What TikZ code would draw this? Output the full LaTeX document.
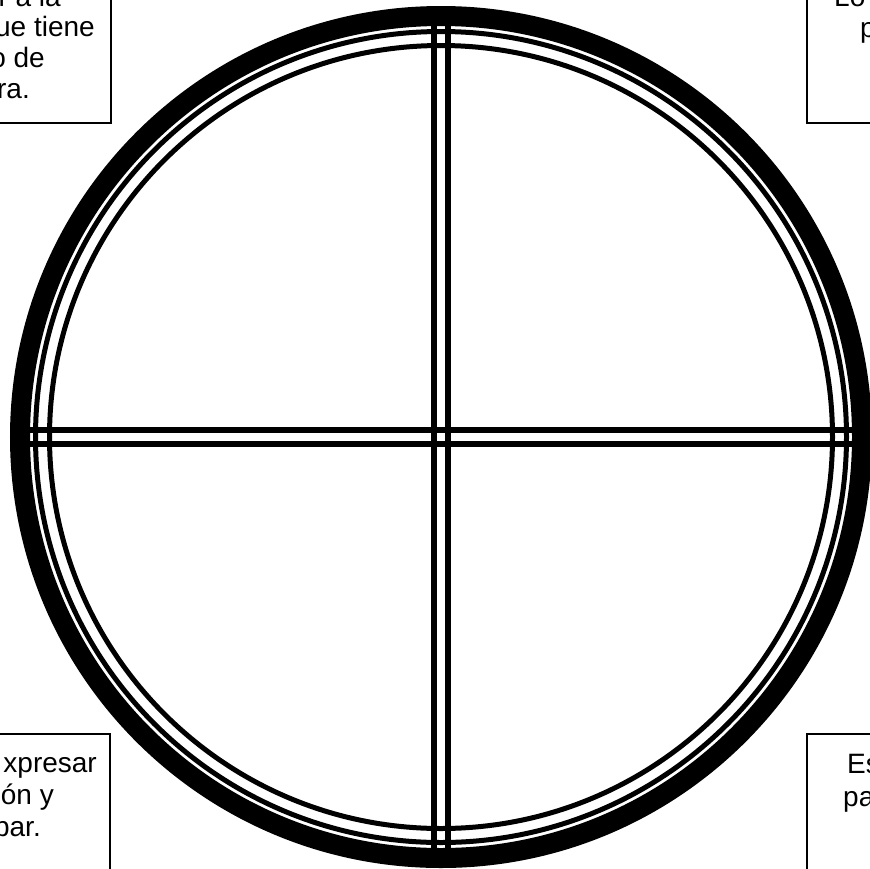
\documentclass[tikz,border=0pt]{standalone}
\usepackage{fontspec}
\setmainfont{Liberation Sans}
\usetikzlibrary{calc}
\begin{document}
\begin{tikzpicture}[x=1pt, y=-1pt,
    ring/.style={draw=black},
    bar/.style={draw=black, line width=6pt},
    notebox/.style={draw=black, line width=1.5pt},
    note/.style={font=\fontsize{28}{33}\selectfont, inner sep=0pt}]
  \useasboundingbox (0,0) rectangle (870,868);
  \clip (0,0) rectangle (870,868);
  \fill[white] (0,0) rectangle (870,868);
  \coordinate (C) at (441,437);
  % anillos de la ventana
  \foreach \r/\w in {421/20, 405.5/5, 391.5/5}
    \draw[ring, line width=\w pt] (C) circle (\r pt);
  % cruz doble
  \foreach \d in {-7,7}{
    \draw[bar] ($(C)+(-411,\d)$) -- ($(C)+(411,\d)$);
    \draw[bar] ($(C)+(\d,-411)$) -- ($(C)+(\d,411)$);
  }
  % cuadros de texto
  \draw[notebox] (-10,-10) rectangle (111,123);
  \draw[notebox] (807,-10) rectangle (880,123);
  \draw[notebox] (-10,734) rectangle (110,880);
  \draw[notebox] (807,734) rectangle (880,880);
  \node[note, anchor=base east] (tl1) at (61,6) {r a la};
  \node[note, anchor=base east] (tl2) at (95,36) {ue tiene};
  \node[note, anchor=base east] (tl3) at (45,67) {o de};
  \node[note, anchor=base east] (tl4) at (30,98) {ra.};
  \node[note, anchor=base west] (tr1) at (834,6) {Lo};
  \node[note, anchor=base west] (tr2) at (860,37) {p};
  \node[note, anchor=base east] (bl1) at (97,772) {xpresar};
  \node[note, anchor=base east] (bl2) at (54,804) {ón y};
  \node[note, anchor=base east] (bl3) at (41,836) {par.};
  \node[note, anchor=base west] (br1) at (847,773) {Es};
  \node[note, anchor=base west] (br2) at (843,806) {pa};
\end{tikzpicture}
\end{document}
